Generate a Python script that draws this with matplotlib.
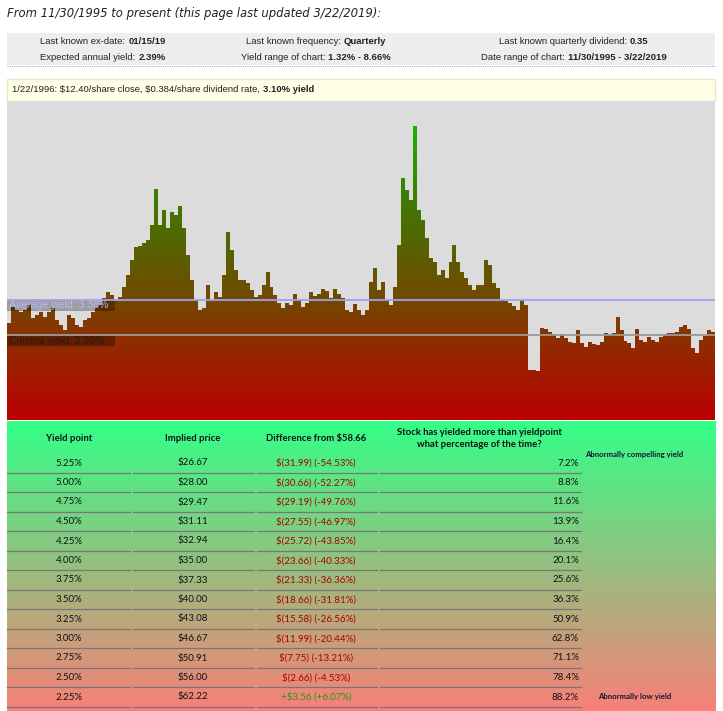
import numpy as np
import matplotlib
matplotlib.use("Agg")
import matplotlib.pyplot as plt
from matplotlib.colors import LinearSegmentedColormap
from matplotlib.patches import Polygon, Rectangle
from matplotlib.transforms import blended_transform_factory

W, H = 723, 711

# dividend yield (%), one value per bar, 11/30/1995 -> 3/22/2019
yields = [
    2.73, 3.18, 3.09, 3.04, 3.09, 3.23, 2.87, 2.95, 3.04, 2.90,
    3.04, 3.15, 2.81, 2.67, 2.53, 2.95, 2.87, 2.67, 2.62, 2.81,
    2.87, 3.04, 3.18, 3.23, 3.43, 3.60, 3.52, 3.38, 3.46, 3.74,
    4.08, 4.50, 4.87, 4.89, 4.98, 5.06, 5.48, 6.50, 5.48, 5.91,
    5.40, 5.85, 5.77, 6.02, 5.40, 4.64, 3.94, 3.38, 3.09, 3.15,
    3.80, 3.38, 3.60, 3.46, 4.08, 5.30, 4.78, 4.22, 3.94, 3.94,
    3.85, 3.66, 3.46, 3.52, 3.80, 4.16, 3.74, 3.52, 3.29, 3.15,
    3.29, 3.23, 3.54, 3.38, 3.18, 3.29, 3.60, 3.49, 3.54, 3.68,
    3.63, 3.43, 3.68, 3.54, 3.43, 3.09, 3.04, 3.26, 3.09, 2.95,
    3.09, 3.88, 4.27, 3.66, 3.88, 3.38, 3.23, 3.74, 4.92, 6.80,
    6.47, 6.19, 8.27, 5.91, 5.63, 5.12, 4.56, 4.44, 4.08, 4.22,
    3.99, 4.44, 4.92, 4.44, 4.16, 3.99, 3.80, 3.66, 3.80, 3.80,
    4.50, 4.36, 3.85, 3.71, 3.38, 3.35, 3.29, 3.21, 3.09, 3.38,
    3.23, 1.41, 1.41, 1.38, 2.59, 2.55, 2.47, 2.42, 2.31, 2.42,
    2.31, 2.19, 2.17, 2.53, 2.17, 2.05, 2.19, 2.14, 2.11, 2.19,
    2.45, 2.42, 2.45, 2.90, 2.53, 2.22, 2.17, 2.03, 2.56, 2.25,
    2.19, 2.33, 2.25, 2.19, 2.33, 2.42, 2.45, 2.45, 2.47, 2.62,
    2.67, 2.56, 2.03, 1.88, 2.25, 2.36, 2.53, 2.47,
]
avg_yield = 3.38
cur_yield = 2.39
y_top = 8.97

# table
yield_points = [5.25, 5.00, 4.75, 4.50, 4.25, 4.00, 3.75, 3.50, 3.25, 3.00, 2.75, 2.50, 2.25]
implied_prices = [26.67, 28.00, 29.47, 31.11, 32.94, 35.00, 37.33, 40.00, 43.08, 46.67, 50.91, 56.00, 62.22]
diff_dollars = [-31.99, -30.66, -29.19, -27.55, -25.72, -23.66, -21.33, -18.66, -15.58, -11.99, -7.75, -2.66, 3.56]
diff_pcts = [-54.53, -52.27, -49.76, -46.97, -43.85, -40.33, -36.36, -31.81, -26.56, -20.44, -13.21, -4.53, 6.07]
pct_of_time = [7.2, 8.8, 11.6, 13.9, 16.4, 20.1, 25.6, 36.3, 50.9, 62.8, 71.1, 78.4, 88.2]

fig = plt.figure(figsize=(W / 100, H / 100), dpi=100)
page = fig.add_axes([0, 0, 1, 1], zorder=0)
page.axis("off")
renderer = fig.canvas.get_renderer()

SANS = "Liberation Sans"
TAB = "Lato"


def rich(x, y, parts, size, ha="left", family=SANS):
    # several text pieces in a row, e.g. normal + bold
    objs = [page.text(0, y, s, fontsize=size, fontweight=w, color=c,
                      family=family, va="center") for s, w, c in parts]
    widths = [t.get_window_extent(renderer).width for t in objs]
    gap = size * 0.28 * 100 / 72
    total = sum(widths) + gap * (len(objs) - 1)
    x0 = x - total / 2 if ha == "center" else x
    for t, wd in zip(objs, widths):
        t.set_x(x0)
        x0 += wd + gap


# title
page.text(7, 13, "From 11/30/1995 to present (this page last updated 3/22/2019):",
          family="DejaVu Sans", style="italic", fontsize=8.4, va="center", color="#222222")

# info box
page.add_patch(Rectangle((7, 33), 708, 32, facecolor="#eeeeee", edgecolor="none"))
page.plot([7, 715], [65.5, 65.5], ls=(0, (1, 1)), color="#aaaaaa", lw=0.8)
k = "#222222"
info = [
    (103, 41, [("Last known ex-date:", "normal", k), ("01/15/19", "bold", k)]),
    (103, 57, [("Expected annual yield:", "normal", k), ("2.39%", "bold", k)]),
    (316, 41, [("Last known frequency:", "normal", k), ("Quarterly", "bold", k)]),
    (316, 57, [("Yield range of chart:", "normal", k), ("1.32% - 8.66%", "bold", k)]),
    (574, 41, [("Last known quarterly dividend:", "normal", k), ("0.35", "bold", k)]),
    (574, 57, [("Date range of chart:", "normal", k), ("11/30/1995 - 3/22/2019", "bold", k)]),
]
for x, y, parts in info:
    rich(x, y, parts, 6.8, ha="center")

# hover bar
page.add_patch(Rectangle((7, 79), 708, 22, facecolor="#ffffe8", edgecolor="#e8e8c4", lw=1))
rich(12, 89.5, [("1/22/1996: \\$12.40/share close, \\$0.384/share dividend rate,", "normal", k),
                ("3.10% yield", "bold", k)], 6.8)

# table background gradient
tab_cmap = LinearSegmentedColormap.from_list("tab", ["#33ff88", "#f88078"])
page.imshow(np.linspace(0, 1, 256).reshape(-1, 1), cmap=tab_cmap, origin="upper",
            extent=[7, 716, 711, 421], aspect="auto", interpolation="bilinear")

heads = [(69, "Yield point"), (193, "Implied price"), (316, "Difference from $58.66"),
         (479, "Stock has yielded more than yieldpoint\nwhat percentage of the time?")]
for x, s in heads:
    page.text(x, 438.5, s, family=TAB, fontweight="bold", fontsize=6.8, ha="center",
              va="center", linespacing=1.4, color="#111111")

segs = [(7, 130), (133, 254), (257, 377), (380, 581)]
for i, yp in enumerate(yield_points):
    y = 463 + 19.5 * i
    page.text(69, y, f"{yp:.2f}%", family=TAB, fontsize=7, ha="center", va="center", color="#111111")
    page.text(193, y, f"${implied_prices[i]:.2f}", family=TAB, fontsize=7, ha="center", va="center", color="#111111")
    d, p = diff_dollars[i], diff_pcts[i]
    if d < 0:
        s, c = f"$({-d:.2f}) ({p:.2f}%)", "#aa0000"
    else:
        s, c = f"+${d:.2f} (+{p:.2f}%)", "#1e9a1e"
    page.text(316, y, s, family=TAB, fontsize=7, ha="center", va="center", color=c)
    page.text(579, y, f"{pct_of_time[i]:.1f}%", family=TAB, fontsize=7, ha="right", va="center", color="#111111")
    for a, b in segs:
        page.plot([a, b], [y + 9.5, y + 9.5], color="#777777", lw=0.9)

page.text(585, 454, "Abnormally compelling yield", family=TAB, fontweight="bold",
          fontsize=5.6, va="center", color="#161636")
page.text(598, 697, "Abnormally low yield", family=TAB, fontweight="bold",
          fontsize=5.6, va="center", color="#161636")

page.set_xlim(0, W)
page.set_ylim(H, 0)

# yield chart
ax = fig.add_axes([7 / W, 1 - 420 / H, 708 / W, 319 / H], zorder=1)
ax.set_facecolor("#dcdcdc")
for sp in ax.spines.values():
    sp.set_visible(False)
ax.set_xticks([])
ax.set_yticks([])

n = len(yields)
grad_cmap = LinearSegmentedColormap.from_list(
    "yld", [(0, "#bb0000"), (0.27, "#8a3200"), (0.38, "#724900"), (0.69, "#3f7a05"), (1, "#12c400")])
im = ax.imshow(np.linspace(0, 1, 256).reshape(-1, 1), cmap=grad_cmap, origin="lower",
               extent=[0, n, 0, y_top], aspect="auto", interpolation="bilinear")
verts = [(0, 0)]
for i, v in enumerate(yields):
    verts += [(i, v), (i + 1, v)]
verts.append((n, 0))
poly = Polygon(verts, closed=True, facecolor="none", edgecolor="none", transform=ax.transData)
ax.add_patch(poly)
im.set_clip_path(poly)

ax.axhline(avg_yield, color="#9e9ef2", lw=1.3)
ax.axhline(cur_yield, color="#9a9a9a", lw=1.3)
tr = blended_transform_factory(ax.transAxes, ax.transData)
ax.add_patch(Rectangle((0, avg_yield - 0.31), 108 / 708, 0.30, transform=tr,
                       facecolor=(0, 0, 0, 0.28), edgecolor="none"))
ax.text(0.003, avg_yield - 0.155, f"Average yield: {avg_yield:.2f}%", transform=tr,
        family=SANS, fontsize=7.6, va="center", color="#b8b8ff")
ax.add_patch(Rectangle((0, cur_yield - 0.32), 108 / 708, 0.28, transform=tr,
                       facecolor=(0, 0, 0, 0.32), edgecolor="none"))
ax.text(0.003, cur_yield - 0.18, f"Current yield: {cur_yield:.2f}%", transform=tr,
        family=SANS, fontsize=7.6, va="center", color="#2a1a12")
ax.set_xlim(0, n)
ax.set_ylim(0, y_top)

fig.savefig("out.png", dpi=100)
